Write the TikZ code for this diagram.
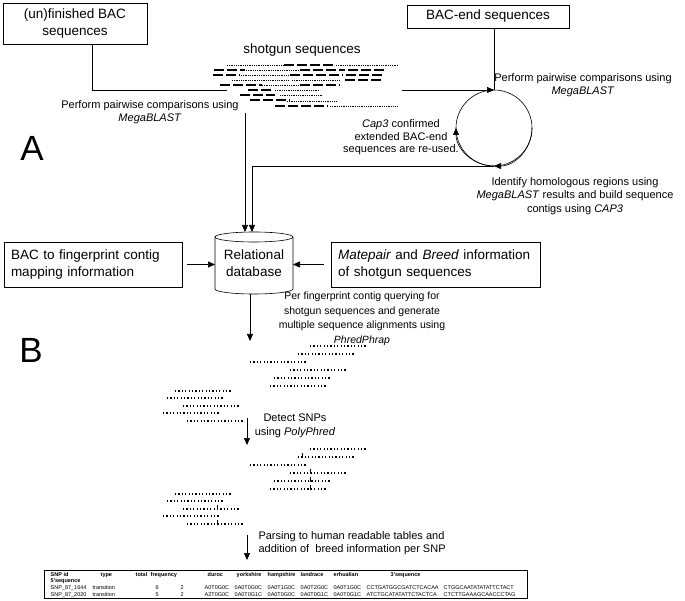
\documentclass[tikz,border=0pt]{standalone}
\usepackage{fontspec}
\setmainfont{Liberation Sans}
\usetikzlibrary{arrows.meta}
\newcommand\tcell[2]{\rlap{\hspace*{#1pt}#2}}
\begin{document}
\begin{tikzpicture}[x=1pt,y=-1pt,
  box/.style={draw, line width=0.6pt, inner sep=0pt, outer sep=0pt},
  ln/.style={line width=0.6pt},
  arr/.style={line width=0.6pt, -{Triangle[length=7pt,width=6pt]}},
  big/.style={font=\fontsize{13.5}{17}\selectfont},
  sm/.style={font=\fontsize{11}{13.5}\selectfont},
  sd/.style={line width=0.8pt, dash pattern=on 0.7pt off 1.1pt},
  sl/.style={line width=1.4pt, dash pattern=on 10pt off 3pt},
  gd/.style={line width=1.2pt, dash pattern=on 1.2pt off 2.2pt},
  tb/.style={font=\fontsize{5.5}{6}\selectfont, inner sep=0pt, anchor=base west}]
\useasboundingbox (0,0) rectangle (685,601);

% boxes
\node[box, big, minimum width=144pt, minimum height=41pt, align=center] (b1) at (75,23.5) {(un)finished BAC\\sequences};
\node[box, big, minimum width=162pt, minimum height=23pt] (b2) at (488,16.5) {BAC-end sequences};
\node[box, big, minimum width=178pt, minimum height=45pt, text width=164pt, align=left] (b3) at (93,264.5) {BAC to fingerprint contig\\mapping information};
\node[box, big, minimum width=209pt, minimum height=45pt, text width=195pt, align=left] (b4) at (435.5,264.5) {\textit{Matepair} and \textit{Breed} information\\of shotgun sequences};

% shotgun sequences
\node[big] (st) at (302,50) {shotgun sequences};
\node[minimum width=175pt, minimum height=46pt, inner sep=0pt, outer sep=0pt] (shot) at (314.5,90) {};
\foreach \y/\a/\b in {65/227/283, 65/336/398, 70/246/300, 75/241/290, 80/232/288, 80/292/340, 85/262/300, 90/275/320, 95/280/322, 101/287/337, 106/330/398}
  \draw[sd] (\a,\y) -- (\b,\y);
\foreach \y/\a/\b in {65/284/333, 70/214/245, 70/300/345, 70/348/385, 75/213/240, 75/290/343, 75/346/384, 80/345/383, 85/220/262, 85/300/340, 90/248/272, 95/240/275, 100/250/290, 106/275/328}
  \draw[sl] (\a,\y) -- (\b,\y);

% letters
\node[font=\fontsize{35}{35}\selectfont] (la) at (32,148) {A};
\node[font=\fontsize{35}{35}\selectfont] (lb) at (31,350) {B};

% cycle
\node[circle, draw, line width=0.6pt, minimum size=76pt, inner sep=0pt, outer sep=0pt] (cyc) at (494,128) {};
\draw[arr] (cyc.east) arc[start angle=0, end angle=90, radius=38];
\draw[arr] (cyc.south) arc[start angle=90, end angle=180, radius=38];

% database
\draw[ln] (215,237) -- (215,289) arc[start angle=180, end angle=0, x radius=39, y radius=5] -- (293,237);
\draw[ln] (254,237) ellipse[x radius=39, y radius=5];
\node[big, align=center, minimum width=78pt, minimum height=62pt, inner sep=0pt, outer sep=0pt] (db) at (254,263) {Relational\\database};

% texts
\node[sm, align=center] (t1) at (150,112) {Perform pairwise comparisons using\\\textit{MegaBLAST}};
\node[sm, align=center] (t2) at (583,85) {Perform pairwise comparisons using\\\textit{MegaBLAST}};
\node[sm, align=center, font=\fontsize{11}{12.6}\selectfont] (t3) at (401,137.5) {\textit{Cap3} confirmed\\extended BAC-end\\sequences are re-used.};
\node[sm, align=center] (t4) at (575,196) {Identify homologous regions using\\\textit{MegaBLAST} results and build sequence\\contigs using \textit{CAP3}};
\node[sm, align=center, font=\fontsize{10.5}{14.5}\selectfont] (t5) at (362,319) {Per fingerprint contig querying for\\shotgun sequences and generate\\multiple sequence alignments using\\\textit{PhredPhrap}};
\node[sm, align=center] (t6) at (295,426) {Detect SNPs\\using \textit{PolyPhred}};
\node[sm, align=left, anchor=west] (t7) at (255,543) {Parsing to human readable tables and\\addition of\ \ breed information per SNP};

% connectors
\coordinate (xa) at (245,0);
\coordinate (xb) at (252,0);
\draw[ln] ([xshift=17pt]b1.south) |- (shot.west);
\draw[arr] (shot.east) -- (cyc.north);
\draw[ln] ([xshift=6pt]b2.south) -- (cyc.north);
\draw[arr] (shot.south -| xa) -- (db.north -| xa);
\draw[arr] (cyc.south) -| (db.north -| xb);
\draw[arr] ([xshift=5pt]b3.east) -- (db.west |- b3.east);
\draw[arr] ([xshift=-7pt]b4.west) -- (db.east |- b4.west);

% alignments
\coordinate (g1) at (250,341);
\draw[arr] ([xshift=-4pt]db.south) -- (g1);
\foreach \y/\a in {346/310, 354/298, 362/250, 370/290, 378/274, 386/270, 391/175, 398/167, 406/183, 413/163, 421/187}
  \draw[gd] (\a,\y) -- ++(57,0);
\coordinate (d1) at (247,418);
\coordinate (d2) at (247,445);
\draw[arr] (d1) -- (d2);
\foreach \y/\a in {449/310, 457/298, 465/250, 473/290, 481/274, 489/270, 494/175, 501/167, 509/183, 516/163, 524/187}
  \draw[gd] (\a,\y) -- ++(57,0);
\foreach \x/\y in {302/457, 310/473, 310/481, 310/489, 217/509, 217/524}
  \draw[line width=0.6pt] (\x,\y-4) -- (\x,\y+1);
\coordinate (p1) at (247,535);
\coordinate (p2) at (247,560);
\draw[arr] (p1) -- (p2);

% table
\node[box, minimum width=483pt, minimum height=28pt] (tab) at (285.5,584) {};
\node[tb] (th) at (44,576) {\bfseries\tcell{6}{SNP id}\tcell{56}{type}\tcell{91}{total}\tcell{106}{frequency}\tcell{163}{duroc}\tcell{192}{yorkshire}\tcell{223}{hampshire}\tcell{256}{landrace}\tcell{289}{erhualian}\tcell{346}{3'sequence}};
\node[tb] (th2) at (44,582) {\bfseries\tcell{6}{5'sequence}};
\node[tb] (r1) at (44,589) {\tcell{6}{SNP\_87\_1644}\tcell{48}{transition}\tcell{111}{6}\tcell{136}{2}\tcell{160}{A0T0G0C}\tcell{190}{0A0T0G0C}\tcell{223}{0A0T1G0C}\tcell{256}{0A0T2G0C}\tcell{289}{0A0T1G0C}\tcell{322}{CCTGATGGCGATCTCACAA}\tcell{399}{CTGGCAATATATATTCTACT}};
\node[tb] (r2) at (44,596) {\tcell{6}{SNP\_87\_2020}\tcell{48}{transition}\tcell{111}{5}\tcell{136}{2}\tcell{160}{A2T0G0C}\tcell{190}{0A0T0G1C}\tcell{223}{0A0T0G0C}\tcell{256}{0A0T0G1C}\tcell{289}{0A0T0G1C}\tcell{322}{ATCTGCATATATTCTACTCA}\tcell{399}{CTCTTGAAAGCAACCCTAG}};
\end{tikzpicture}
\end{document}
